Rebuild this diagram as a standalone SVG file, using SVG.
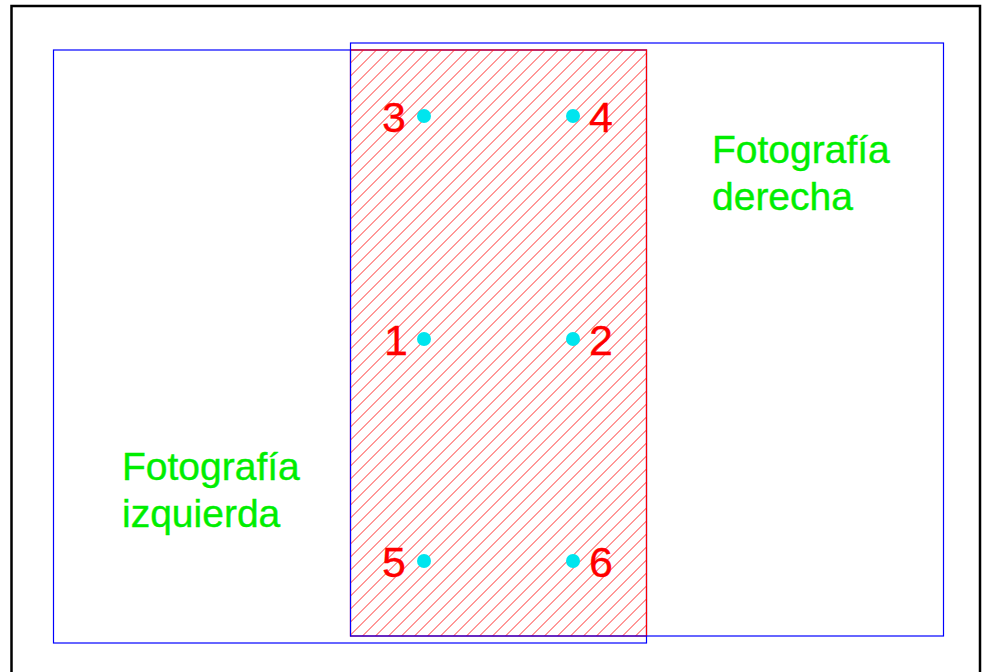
<svg xmlns="http://www.w3.org/2000/svg" width="986" height="672" viewBox="0 0 986 672">
<style>
.frame{fill:none;stroke:#000;stroke-width:2.5}
.photo{fill:none;stroke:#0000ff;stroke-width:1.2}
.zone{fill:url(#hatch);stroke:#ff0000;stroke-width:1.2}
.dot{fill:#00e5ee}
.num{font-family:"Liberation Sans",Arial,sans-serif;font-size:43px;fill:#ff0000;stroke:#ff0000;stroke-width:0.3;text-anchor:middle}
.lbl{font-family:"Liberation Sans",Arial,sans-serif;font-size:39px;fill:#00ee00;stroke:#00ee00;stroke-width:0.4}
</style>
<defs>
<pattern id="hatch" patternUnits="userSpaceOnUse" x="350.5" y="50" width="13" height="13">
<path d="M-1,1 L1,-1 M0,13 L13,0 M12,14 L14,12" stroke="#ff3030" stroke-width="1"/>
</pattern>
</defs>
<rect width="986" height="672" fill="#fff"/>
<rect class="frame" x="11.5" y="6" width="968.5" height="680"/>
<g id="foto-izquierda">
<rect class="photo" x="53.5" y="50" width="593" height="593"/>
<text class="lbl" x="122" y="480">Fotografía</text>
<text class="lbl" x="122" y="527">izquierda</text>
</g>
<g id="zona-solape">
<rect class="zone" x="350.5" y="50" width="296" height="586"/>
</g>
<g id="foto-derecha">
<rect class="photo" x="350.5" y="43" width="593" height="593"/>
<text class="lbl" x="712" y="163">Fotografía</text>
<text class="lbl" x="712" y="210">derecha</text>
</g>
<g id="connectors"></g>
<g id="p3"><circle class="dot" cx="424" cy="116" r="7"/><text class="num" x="394" y="132">3</text></g>
<g id="p4"><circle class="dot" cx="573" cy="116" r="7"/><text class="num" x="601" y="132">4</text></g>
<g id="p1"><circle class="dot" cx="424" cy="339" r="7"/><text class="num" x="396" y="355">1</text></g>
<g id="p2"><circle class="dot" cx="573" cy="339" r="7"/><text class="num" x="601" y="355">2</text></g>
<g id="p5"><circle class="dot" cx="424" cy="561" r="7"/><text class="num" x="394" y="577">5</text></g>
<g id="p6"><circle class="dot" cx="573" cy="561" r="7"/><text class="num" x="601" y="577">6</text></g>
</svg>
